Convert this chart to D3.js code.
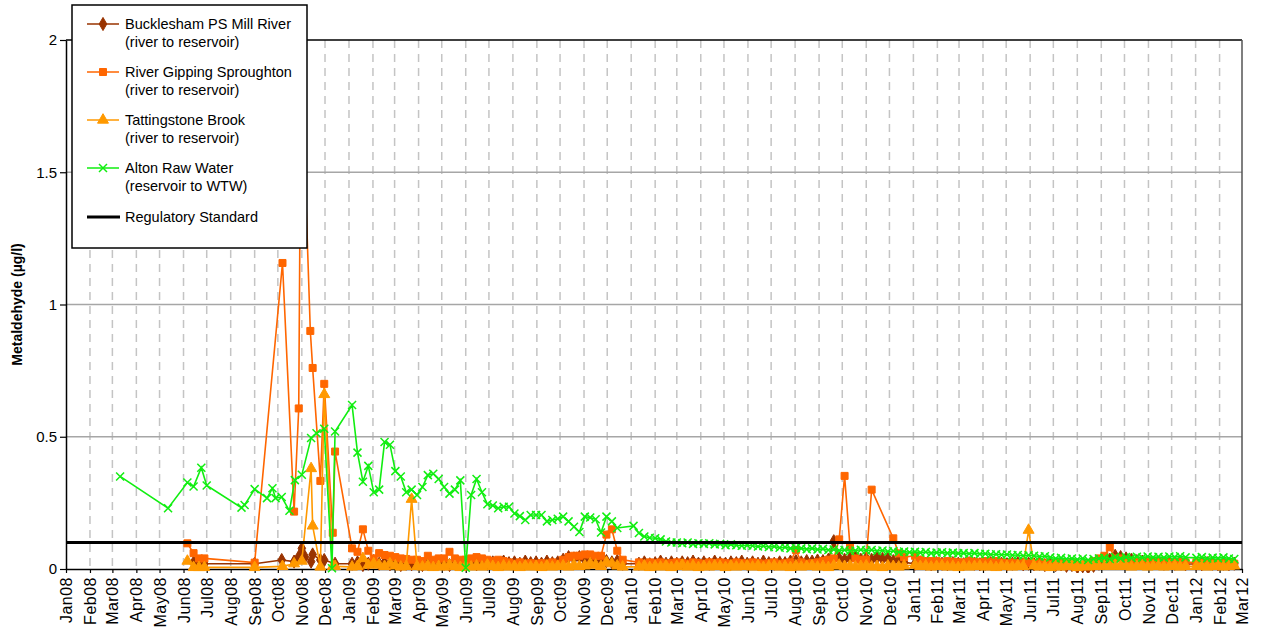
<!DOCTYPE html>
<html>

<head>
    <meta charset="utf-8">
    <script src="https://d3js.org/d3.v7.min.js"></script>
    <style>
        body { margin: 0; background: #fff; }
        text { font-family: "Liberation Sans", Arial, sans-serif; fill: #000; }
    </style>
</head>

<body>
    <script>
        // ---- data ----
        const seriesNames = ["Bucklesham PS Mill River", "River Gipping Sproughton", "Tattingstone Brook", "Alton Raw Water"];
        const seriesNotes = ["(river to reservoir)", "(river to reservoir)", "(river to reservoir)", "(reservoir to WTW)"];
        const yTicks = [0, 0.5, 1, 1.5, 2];

        // sparse samples in 2008
        const bucklesham08Dates = ["2008-06-14", "2008-06-21", "2008-06-28", "2008-09-01", "2008-10-06", "2008-10-22", "2008-10-28", "2008-11-01", "2008-11-05", "2008-11-13", "2008-11-15", "2008-11-25", "2008-11-30", "2008-12-14"];
        const bucklesham08 = [0.024, 0.02, 0.02, 0.02, 0.034, 0.028, 0.046, 0.078, 0.046, 0.028, 0.055, 0.034, 0.034, 0.02];

        const gipping08Dates = ["2008-06-06", "2008-06-14", "2008-06-21", "2008-06-28", "2008-09-01", "2008-10-07", "2008-10-22", "2008-10-28", "2008-10-31", "2008-11-12", "2008-11-15", "2008-11-25", "2008-11-30", "2008-12-11", "2008-12-14"];
        const gipping08 = [0.097, 0.06, 0.04, 0.04, 0.024, 1.157, 0.217, 0.607, 1.95, 0.9, 0.76, 0.333, 0.70, 0.137, 0.444];

        const tattingstone08Dates = ["2008-06-06", "2008-06-14", "2008-06-21", "2008-06-28", "2008-09-01", "2008-10-07", "2008-10-22", "2008-11-01", "2008-11-13", "2008-11-15", "2008-11-25", "2008-11-30", "2008-12-11", "2008-12-14"];
        const tattingstone08 = [0.03, 0.006, 0.006, 0.006, 0.006, 0.01, 0.02, 0.03, 0.38, 0.163, 0.008, 0.66, 0.01, 0.01];

        const alton08Dates = ["2008-03-11", "2008-05-12", "2008-06-06", "2008-06-14", "2008-06-24", "2008-07-01", "2008-08-15", "2008-08-19", "2008-09-01", "2008-09-17", "2008-09-24", "2008-09-28", "2008-10-06", "2008-10-16", "2008-10-23", "2008-11-01", "2008-11-13", "2008-11-20", "2008-11-30", "2008-12-10", "2008-12-14"];
        const alton08 = [0.35, 0.23, 0.327, 0.312, 0.383, 0.316, 0.232, 0.242, 0.302, 0.268, 0.305, 0.268, 0.272, 0.22, 0.336, 0.356, 0.495, 0.513, 0.53, 0.003, 0.52];

        // weekly samples from 2009 (null = no sample that week)
        const weekDates = [
            "2009-01-05", "2009-01-12", "2009-01-19", "2009-01-26", "2009-02-02", "2009-02-09", "2009-02-16", "2009-02-23",
            "2009-03-02", "2009-03-09", "2009-03-16", "2009-03-23", "2009-03-30", "2009-04-06", "2009-04-13", "2009-04-20", "2009-04-27",
            "2009-05-04", "2009-05-11", "2009-05-18", "2009-05-25", "2009-06-01", "2009-06-08", "2009-06-15", "2009-06-22", "2009-06-29",
            "2009-07-06", "2009-07-13", "2009-07-20", "2009-07-27", "2009-08-03", "2009-08-10", "2009-08-17", "2009-08-24", "2009-08-31",
            "2009-09-07", "2009-09-14", "2009-09-21", "2009-09-28", "2009-10-05", "2009-10-12", "2009-10-19", "2009-10-26",
            "2009-11-02", "2009-11-09", "2009-11-16", "2009-11-23", "2009-11-30", "2009-12-07", "2009-12-14", "2009-12-21", "2009-12-28",
            "2010-01-04", "2010-01-11", "2010-01-18", "2010-01-25", "2010-02-01", "2010-02-08", "2010-02-15", "2010-02-22",
            "2010-03-01", "2010-03-08", "2010-03-15", "2010-03-22", "2010-03-29", "2010-04-05", "2010-04-12", "2010-04-19", "2010-04-26",
            "2010-05-03", "2010-05-10", "2010-05-17", "2010-05-24", "2010-05-31", "2010-06-07", "2010-06-14", "2010-06-21", "2010-06-28",
            "2010-07-05", "2010-07-12", "2010-07-19", "2010-07-26", "2010-08-02", "2010-08-09", "2010-08-16", "2010-08-23", "2010-08-30",
            "2010-09-06", "2010-09-13", "2010-09-20", "2010-09-27", "2010-10-04", "2010-10-11", "2010-10-18", "2010-10-25",
            "2010-11-01", "2010-11-08", "2010-11-15", "2010-11-22", "2010-11-29", "2010-12-06", "2010-12-13", "2010-12-20", "2010-12-27",
            "2011-01-03", "2011-01-10", "2011-01-17", "2011-01-24", "2011-01-31", "2011-02-07", "2011-02-14", "2011-02-21", "2011-02-28",
            "2011-03-07", "2011-03-14", "2011-03-21", "2011-03-28", "2011-04-04", "2011-04-11", "2011-04-18", "2011-04-25",
            "2011-05-02", "2011-05-09", "2011-05-16", "2011-05-23", "2011-05-30", "2011-06-06", "2011-06-13", "2011-06-20", "2011-06-27",
            "2011-07-04", "2011-07-11", "2011-07-18", "2011-07-25", "2011-08-01", "2011-08-08", "2011-08-15", "2011-08-22", "2011-08-29",
            "2011-09-05", "2011-09-12", "2011-09-19", "2011-09-26", "2011-10-03", "2011-10-10", "2011-10-17", "2011-10-24", "2011-10-31",
            "2011-11-07", "2011-11-14", "2011-11-21", "2011-11-28", "2011-12-05", "2011-12-12", "2011-12-19", "2011-12-26",
            "2012-01-02", "2012-01-09", "2012-01-16", "2012-01-23", "2012-01-30", "2012-02-06", "2012-02-13", "2012-02-20"
        ];

        const buckleshamWeekly = [
            0.02, 0.025, 0.015, 0.02, 0.03, 0.02, 0.025, 0.018,
            0.025, 0.015, 0.02, 0.018, 0.022, 0.015, 0.02, 0.018, 0.025,
            0.02, 0.015, 0.022, 0.018, 0.02, 0.025, 0.018, 0.022, 0.02,
            0.025, 0.02, 0.028, 0.022, 0.025, 0.02, 0.028, 0.022, 0.025,
            0.02, 0.028, 0.022, 0.025, 0.035, 0.045, 0.04, 0.045,
            0.035, 0.03, 0.035, 0.028, 0.03, 0.025, 0.03, 0.02, null,
            null, 0.02, 0.025, 0.018, 0.022, 0.028, 0.02, 0.025,
            0.02, 0.025, 0.022, 0.028, 0.02, 0.025, 0.02, 0.028, 0.022,
            0.02, 0.025, 0.022, 0.028, 0.02, 0.025, 0.02, 0.028, 0.022,
            0.02, 0.025, 0.022, 0.028, 0.03, 0.025, 0.03, 0.028, 0.032,
            0.03, 0.035, 0.105, 0.04, 0.035, 0.04, 0.045, 0.035,
            0.04, 0.035, 0.045, 0.038, 0.04, 0.03, 0.035, 0.025, null,
            0.02, 0.025, 0.02, 0.018, 0.022, 0.02, 0.018, 0.022, 0.02,
            0.018, 0.022, 0.02, 0.018, 0.02, 0.022, 0.018, 0.02,
            0.018, 0.02, 0.022, 0.018, 0.02, 0.018, 0.02, 0.015, 0.018,
            0.015, 0.018, 0.012, 0.015, 0.008, 0.01, 0.006, 0.012, 0.02,
            0.028, 0.035, 0.05, 0.045, 0.04, 0.035, 0.03, 0.028, 0.025,
            0.022, 0.025, 0.02, 0.022, 0.02, 0.022, 0.018, null,
            0.02, 0.018, 0.022, 0.02, 0.018, 0.02, 0.018, 0.02
        ];

        const gippingWeekly = [
            0.078, 0.065, 0.15, 0.069, 0.04, 0.06, 0.053, 0.05,
            0.045, 0.04, 0.038, 0.035, 0.035, 0.03, 0.05, 0.035, 0.04,
            0.04, 0.065, 0.04, 0.035, 0.035, 0.04, 0.045, 0.04, 0.035,
            0.03, 0.035, 0.03, 0.025, 0.02, 0.025, 0.02, 0.022, 0.02,
            0.022, 0.02, 0.025, 0.02, 0.035, 0.045, 0.05, 0.05,
            0.055, 0.055, 0.05, 0.05, 0.13, 0.15, 0.069, 0.035, null,
            null, 0.025, 0.02, 0.025, 0.022, 0.025, 0.02, 0.022,
            0.025, 0.022, 0.02, 0.025, 0.022, 0.02, 0.025, 0.022, 0.025,
            0.022, 0.02, 0.025, 0.022, 0.02, 0.025, 0.022, 0.02, 0.022,
            0.025, 0.02, 0.022, 0.025, 0.072, 0.025, 0.02, 0.022, 0.025,
            0.03, 0.035, 0.04, 0.112, 0.352, 0.084, 0.04, 0.035,
            0.035, 0.30, null, null, null, 0.116, 0.059, 0.045, null,
            0.05, 0.035, 0.03, 0.03, 0.03, 0.025, 0.03, 0.028, 0.025,
            0.025, 0.03, 0.028, 0.025, 0.03, 0.028, 0.03, 0.025,
            0.022, 0.025, 0.022, 0.025, 0.022, 0.02, 0.025, 0.022, 0.02,
            0.022, 0.025, 0.02, 0.022, 0.012, 0.015, 0.02, 0.03, 0.04,
            0.05, 0.082, 0.04, 0.04, 0.035, 0.03, 0.03, 0.028, 0.03,
            0.025, 0.03, 0.028, 0.025, 0.025, 0.028, 0.025, null,
            0.025, 0.022, 0.025, 0.022, 0.02, 0.022, 0.025, 0.02
        ];

        const tattingstoneWeekly = [
            0.008, 0.01, 0.04, 0.015, 0.02, 0.015, 0.01, 0.02,
            0.012, 0.008, 0.01, 0.264, 0.01, 0.008, 0.012, 0.006, 0.01,
            0.008, 0.015, 0.01, 0.006, 0.01, 0.008, 0.012, 0.008, 0.015,
            0.01, 0.006, 0.012, 0.008, 0.01, 0.006, 0.012, 0.008, 0.01,
            0.006, 0.012, 0.008, 0.01, 0.012, 0.008, 0.015, 0.01,
            0.012, 0.02, 0.015, 0.01, 0.025, 0.02, 0.012, 0.008, null,
            null, 0.008, 0.012, 0.006, 0.01, 0.008, 0.012, 0.006,
            0.01, 0.015, 0.008, 0.012, 0.006, 0.01, 0.008, 0.012, 0.01,
            0.006, 0.012, 0.008, 0.01, 0.012, 0.008, 0.012, 0.006, 0.01,
            0.012, 0.008, 0.01, 0.006, 0.012, 0.008, 0.01, 0.012, 0.008,
            0.01, 0.006, 0.012, 0.015, 0.01, 0.012, 0.008, 0.01,
            0.012, 0.008, 0.01, 0.006, 0.012, 0.01, 0.008, 0.012, null,
            0.015, 0.01, 0.012, 0.008, 0.01, 0.012, 0.008, 0.01, 0.006,
            0.012, 0.008, 0.01, 0.012, 0.008, 0.01, 0.006, 0.012,
            0.01, 0.008, 0.012, 0.01, 0.147, 0.012, 0.008, 0.01, 0.006,
            0.012, 0.008, 0.01, 0.012, 0.006, 0.01, 0.008, 0.012, 0.01,
            0.012, 0.01, 0.015, 0.01, 0.012, 0.008, 0.01, 0.012, 0.008,
            0.01, 0.012, 0.008, 0.01, 0.012, 0.008, 0.01, null,
            0.01, 0.012, 0.008, 0.01, 0.012, 0.008, 0.01, 0.012
        ];

        const altonWeekly = [
            0.62, 0.44, 0.33, 0.39, 0.29, 0.30, 0.48, 0.47,
            0.37, 0.35, 0.29, 0.30, 0.28, 0.31, 0.355, 0.36, 0.34,
            0.31, 0.285, 0.30, 0.335, 0.005, 0.28, 0.34, 0.29, 0.245,
            0.24, 0.23, 0.235, 0.235, 0.21, 0.20, 0.185, 0.204, 0.204,
            0.204, 0.18, 0.185, 0.19, 0.198, 0.18, 0.16, 0.14,
            0.198, 0.195, 0.188, 0.138, 0.198, 0.18, 0.155, null, null,
            0.163, 0.136, 0.123, 0.118, 0.116, 0.112, 0.104, 0.1,
            0.1, 0.097, 0.1, 0.095, 0.097, 0.095, 0.097, 0.093, 0.095,
            0.09, 0.093, 0.09, 0.088, 0.09, 0.088, 0.085, 0.087, 0.083,
            0.085, 0.08, 0.082, 0.078, 0.08, 0.078, 0.075, 0.078, 0.074,
            0.076, 0.072, 0.074, 0.07, 0.072, 0.068, 0.07, 0.073,
            0.07, 0.072, 0.068, 0.07, 0.066, 0.068, 0.064, 0.066, 0.063,
            0.065, 0.062, 0.064, 0.06, 0.062, 0.063, 0.06, 0.062, 0.059,
            0.06, 0.058, 0.06, 0.057, 0.058, 0.055, 0.056, 0.054,
            0.055, 0.052, 0.053, 0.05, 0.052, 0.05, 0.047, 0.048, 0.044,
            0.04, 0.042, 0.038, 0.04, 0.036, 0.04, 0.034, 0.038, 0.04,
            0.042, 0.038, 0.045, 0.04, 0.045, 0.042, 0.046, 0.043, 0.047,
            0.044, 0.046, 0.043, 0.047, 0.045, 0.048, 0.044, null,
            0.042, 0.045, 0.04, 0.043, 0.041, 0.044, 0.04, 0.038
        ];

        const regulatoryDates = ["2008-01-01", "2012-03-01"];
        const regulatoryValues = [0.1, 0.1];

        // ---- chart ----
        let width = 1267,
            height = 627;
        let plotLeft = 66, plotRight = 1242, plotTop = 40, plotBottom = 569;

        let parse = d3.timeParse("%Y-%m-%d");
        let fmtMonth = d3.timeFormat("%b%y");

        let x = d3.scaleTime()
            .domain([parse("2008-01-01"), parse("2012-03-01")])
            .range([plotLeft, plotRight]);
        let y = d3.scaleLinear()
            .domain([0, 2])
            .range([plotBottom, plotTop]);

        function build(d08, v08, weekly) {
            let pts = d08.map((d, i) => ({ date: parse(d), value: v08[i] }));
            weekDates.forEach((d, i) => {
                if (weekly[i] != null) pts.push({ date: parse(d), value: weekly[i] });
            });
            return pts;
        }

        let series = [
            { name: seriesNames[0], note: seriesNotes[0], color: "#993300", marker: "diamond",
              data: build(bucklesham08Dates, bucklesham08, buckleshamWeekly) },
            { name: seriesNames[1], note: seriesNotes[1], color: "#ff6600", marker: "square",
              data: build(gipping08Dates, gipping08, gippingWeekly) },
            { name: seriesNames[2], note: seriesNotes[2], color: "#ff9900", marker: "triangle",
              data: build(tattingstone08Dates, tattingstone08, tattingstoneWeekly) },
            { name: seriesNames[3], note: seriesNotes[3], color: "#11ee11", marker: "cross",
              data: build(alton08Dates, alton08, altonWeekly) }
        ];

        let svg = d3.select("body").append("svg")
            .attr("width", width)
            .attr("height", height);

        svg.append("defs").append("clipPath").attr("id", "plot")
            .append("rect").attr("x", plotLeft).attr("y", plotTop - 2)
            .attr("width", plotRight - plotLeft).attr("height", plotBottom - plotTop + 6);

        let months = d3.timeMonth.range(parse("2008-01-01"), parse("2012-03-02"));

        // vertical dashed grid
        svg.append("g")
            .selectAll("line")
            .data(months.slice(1, -1))
            .join("line")
                .attr("x1", d => x(d)).attr("x2", d => x(d))
                .attr("y1", plotTop).attr("y2", plotBottom)
                .attr("stroke", "#c4c4c4")
                .attr("stroke-width", 1.5)
                .attr("stroke-dasharray", "8,6");

        // horizontal grid
        svg.append("g")
            .selectAll("line")
            .data(yTicks.slice(1, -1))
            .join("line")
                .attr("x1", plotLeft).attr("x2", plotRight)
                .attr("y1", d => y(d)).attr("y2", d => y(d))
                .attr("stroke", "#a6a6a6")
                .attr("stroke-width", 1.5);

        // frame
        svg.append("line").attr("x1", plotLeft).attr("x2", plotRight).attr("y1", plotTop).attr("y2", plotTop)
            .attr("stroke", "#000").attr("stroke-width", 1.5);
        svg.append("line").attr("x1", plotRight).attr("x2", plotRight).attr("y1", plotTop).attr("y2", plotBottom)
            .attr("stroke", "#555").attr("stroke-width", 1.5);

        // axes
        let yAxis = svg.append("g")
            .attr("transform", `translate(${plotLeft},0)`)
            .call(d3.axisLeft(y).tickValues(yTicks).tickSize(6).tickSizeOuter(0).tickFormat(d3.format("")));
        yAxis.selectAll("text").style("font-size", "15px").attr("x", -9);
        yAxis.select(".domain").attr("stroke-width", 1.5);
        yAxis.selectAll(".tick line").attr("stroke-width", 1.2);

        let xAxis = svg.append("g")
            .attr("transform", `translate(0,${plotBottom})`)
            .call(d3.axisBottom(x).tickValues(months).tickSize(4).tickSizeOuter(0).tickFormat(fmtMonth));
        xAxis.select(".domain").attr("stroke-width", 1.5);
        xAxis.selectAll(".tick line").attr("stroke-width", 1.2);
        xAxis.selectAll("text")
            .style("font-size", "16px")
            .style("letter-spacing", "0.5px")
            .attr("text-anchor", "end")
            .attr("transform", "rotate(-90)")
            .attr("x", -8)
            .attr("y", 0)
            .attr("dy", "0.35em");

        svg.append("text")
            .attr("transform", `translate(22,${(plotTop + plotBottom) / 2}) rotate(-90)`)
            .attr("text-anchor", "middle")
            .style("font-size", "14px")
            .style("font-weight", "bold")
            .text("Metaldehyde (µg/l)");

        // markers
        function marker(sel, type, color) {
            if (type === "cross") {
                sel.attr("d", "M-4,-4L4,4M-4,4L4,-4").attr("fill", "none")
                    .attr("stroke", color).attr("stroke-width", 1.5);
            } else {
                let sym = type === "diamond" ? d3.symbolDiamond : type === "square" ? d3.symbolSquare : d3.symbolTriangle;
                let size = type === "diamond" ? 50 : type === "square" ? 49 : 52;
                sel.attr("d", d3.symbol().type(sym).size(size)()).attr("fill", color)
                    .attr("stroke", color).attr("stroke-width", 1);
            }
        }

        let line = d3.line().x(d => x(d.date)).y(d => y(d.value));
        let plot = svg.append("g").attr("clip-path", "url(#plot)");

        series.forEach(s => {
            let g = plot.append("g");
            g.append("path")
                .datum(s.data)
                .attr("d", line)
                .attr("fill", "none")
                .attr("stroke", s.color)
                .attr("stroke-width", 1.6);
            g.selectAll("path.m")
                .data(s.data)
                .join("path")
                    .attr("class", "m")
                    .attr("transform", d => `translate(${x(d.date)},${y(d.value)})`)
                    .call(marker, s.marker, s.color);
        });

        // regulatory standard
        let reg = regulatoryDates.map((d, i) => ({ date: parse(d), value: regulatoryValues[i] }));
        plot.append("path")
            .datum(reg)
            .attr("d", line)
            .attr("fill", "none")
            .attr("stroke", "#000")
            .attr("stroke-width", 3);

        // legend
        let legend = svg.append("g");
        legend.append("rect")
            .attr("x", 72).attr("y", 5)
            .attr("width", 235).attr("height", 243)
            .attr("fill", "#fff")
            .attr("stroke", "#000")
            .attr("stroke-width", 1.5);

        let items = legend.selectAll("g.item")
            .data(series)
            .join("g")
                .attr("class", "item")
                .attr("transform", (d, i) => `translate(0,${24 + i * 48})`);
        items.append("line")
            .attr("x1", 87).attr("x2", 119)
            .attr("stroke", d => d.color).attr("stroke-width", 1.5);
        items.append("path")
            .attr("transform", "translate(103,0)")
            .each(function(d) { d3.select(this).call(marker, d.marker, d.color); });
        items.append("text")
            .attr("x", 125).attr("dy", "0.35em")
            .style("font-size", "14.5px")
            .text(d => d.name);
        items.append("text")
            .attr("x", 125).attr("y", 18).attr("dy", "0.35em")
            .style("font-size", "14.5px")
            .text(d => d.note);

        let regItem = legend.append("g").attr("transform", `translate(0,${24 + 4 * 48 + 1})`);
        regItem.append("line")
            .attr("x1", 87).attr("x2", 120)
            .attr("stroke", "#000").attr("stroke-width", 3);
        regItem.append("text")
            .attr("x", 125).attr("dy", "0.35em")
            .style("font-size", "14.5px")
            .text("Regulatory Standard");
    </script>
</body>

</html>
